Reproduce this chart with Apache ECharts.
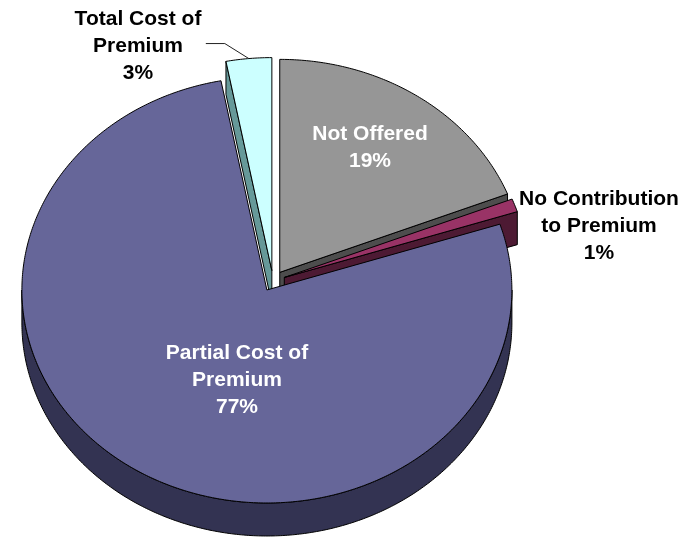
<!DOCTYPE html>
<html><head><meta charset="utf-8">
<script src="https://cdn.jsdelivr.net/npm/echarts@6/dist/echarts.min.js"></script>
<style>html,body{margin:0;padding:0;background:#fff}#c{width:698px;height:538px}</style>
</head><body><div id="c"></div>
<script>
// ---- data ----
const categories = ['Not Offered', 'No Contribution\nto Premium', 'Partial Cost of\nPremium', 'Total Cost of\nPremium'];
const values = [19, 1, 77, 3];
// ---- styles ----
const topColors = ['#969696', '#993366', '#666699', '#ccffff'];
const sideColors = ['#4d4d4d', '#4d1a33', '#333352', '#669999'];
const labelColors = ['#ffffff', '#000000', '#ffffff', '#000000'];
// ---- layout ----
const layout = {
  cx: 273, cy: 281, rx: 245, ry: 213, depth: 33, explode: 12,
  labels: [[370, 148], [599, 226], [237, 380], [138, 46]],
  leader: { 3: [[-24, -15], [-19, 0]] }
};

const total = values.reduce((s, v) => s + v, 0);
const starts = [];
let acc = 0;
values.forEach(v => { starts.push(acc); acc += v; });

function renderItem(params, api) {
  const i = params.dataIndex;
  const v = api.value(0);
  const a1 = starts[i] / total * 2 * Math.PI;
  const a2 = (starts[i] + v) / total * 2 * Math.PI;
  const mid = (a1 + a2) / 2;
  const L = layout;
  const ox = L.cx + L.explode * Math.sin(mid);
  const oy = L.cy - L.explode * (L.ry / L.rx) * Math.cos(mid);
  const pt = (t, d) => [ox + L.rx * Math.sin(t), oy - L.ry * Math.cos(t) + (d || 0)];
  const arc = (t1, t2, d) => {
    const n = Math.max(2, Math.ceil(Math.abs(t2 - t1) / 0.01));
    const pts = [];
    for (let k = 0; k <= n; k++) pts.push(pt(t1 + (t2 - t1) * k / n, d));
    return pts;
  };
  const D = L.depth;
  const children = [];
  const sideStyle = { fill: sideColors[i], stroke: '#000', lineWidth: 1, lineJoin: 'round' };
  // outer curved side (front half only)
  const s1 = Math.max(a1, Math.PI / 2), s2 = Math.min(a2, 3 * Math.PI / 2);
  if (s2 > s1) {
    const topArc = arc(s1, s2, 0);
    const botArc = arc(s1, s2, D).reverse();
    children.push({ type: 'polygon', z2: 1, shape: { points: topArc.concat(botArc) }, style: sideStyle });
  }
  // radial faces
  const apex = [ox, oy], apexD = [ox, oy + D];
  if (Math.sin(a1) < -1e-6) {
    const p = pt(a1, 0), q = pt(a1, D);
    children.push({ type: 'polygon', z2: 2, shape: { points: [apex, p, q, apexD] }, style: sideStyle });
  }
  if (Math.sin(a2) > 1e-6) {
    const p = pt(a2, 0), q = pt(a2, D);
    children.push({ type: 'polygon', z2: 2, shape: { points: [apex, p, q, apexD] }, style: sideStyle });
  }
  // top face
  children.push({
    type: 'polygon', z2: 10,
    shape: { points: [apex].concat(arc(a1, a2, 0)) },
    style: { fill: topColors[i], stroke: '#000', lineWidth: 1, lineJoin: 'round' }
  });
  // leader line
  if (L.leader[i]) {
    let p = pt(mid, 0);
    const pts = [p];
    L.leader[i].forEach(o => { p = [p[0] + o[0], p[1] + o[1]]; pts.push(p); });
    children.push({ type: 'polyline', z2: 15, shape: { points: pts }, style: { stroke: '#222', lineWidth: 1, fill: null } });
  }
  // label
  const lp = L.labels[i];
  children.push({
    type: 'text', z2: 20, x: lp[0], y: lp[1],
    style: {
      text: categories[i] + '\n' + v + '%',
      fill: labelColors[i],
      fontFamily: '"Liberation Sans", Arial, sans-serif',
      fontWeight: 'bold', fontSize: 21, lineHeight: 27,
      align: 'center', verticalAlign: 'middle'
    }
  });
  return { type: 'group', children };
}

const chart = echarts.init(document.getElementById('c'), null, { renderer: 'canvas' });
chart.setOption({
  animation: false,
  backgroundColor: '#ffffff',
  series: [{
    type: 'custom',
    coordinateSystem: 'none',
    silent: true,
    renderItem,
    data: values.map((v, k) => ({ name: categories[k], value: [v] }))
  }]
});
</script>
</body></html>
